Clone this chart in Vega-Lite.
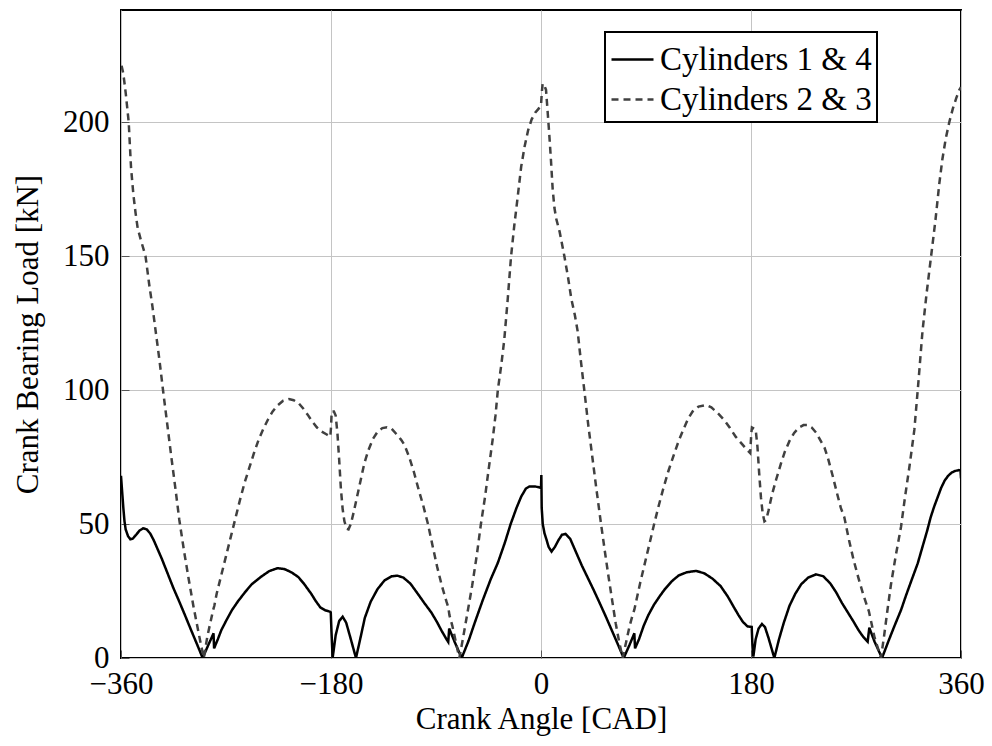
{
  "$schema": "https://vega.github.io/schema/vega-lite/v6.json",
  "autosize": "none",
  "width": 840,
  "height": 648,
  "padding": {"left": 121, "top": 10, "right": 31, "bottom": 88},
  "background": "white",
  "config": {
    "font": "Liberation Serif",
    "view": {"stroke": "black", "strokeWidth": 2},
    "axis": {
      "labelFont": "Liberation Serif",
      "titleFont": "Liberation Serif",
      "labelFontSize": 31,
      "titleFontSize": 31,
      "titleFontWeight": "normal",
      "labelColor": "black",
      "titleColor": "black",
      "gridColor": "#c4c4c4",
      "gridWidth": 1,
      "domain": false,
      "tickColor": "#555555",
      "tickWidth": 1,
      "tickSize": -8
    },
    "legend": {
      "orient": "none",
      "legendX": 484,
      "legendY": 22,
      "strokeColor": "black",
      "strokeWidth": 2,
      "fillColor": "white",
      "padding": 5,
      "labelFont": "Liberation Serif",
      "labelFontSize": 33,
      "labelColor": "black",
      "labelOffset": 5,
      "labelLimit": 400,
      "symbolType": "stroke",
      "symbolSize": 1764,
      "symbolStrokeWidth": 2.5,
      "rowPadding": -6
    }
  },
  "data": {"values": [
{"angle":-360,"load":68,"series":"Cylinders 1 & 4"},{"angle":-359,"load":62,"series":"Cylinders 1 & 4"},{"angle":-358,"load":56,"series":"Cylinders 1 & 4"},{"angle":-357,"load":51,"series":"Cylinders 1 & 4"},{"angle":-356,"load":48,"series":"Cylinders 1 & 4"},{"angle":-354,"load":45.5,"series":"Cylinders 1 & 4"},{"angle":-352,"load":44.3,"series":"Cylinders 1 & 4"},{"angle":-350,"load":44.5,"series":"Cylinders 1 & 4"},{"angle":-347,"load":46,"series":"Cylinders 1 & 4"},{"angle":-344,"load":47.6,"series":"Cylinders 1 & 4"},{"angle":-341,"load":48.4,"series":"Cylinders 1 & 4"},{"angle":-338,"load":48,"series":"Cylinders 1 & 4"},{"angle":-335,"load":46.5,"series":"Cylinders 1 & 4"},{"angle":-332,"load":44,"series":"Cylinders 1 & 4"},{"angle":-329,"load":41,"series":"Cylinders 1 & 4"},{"angle":-325,"load":37,"series":"Cylinders 1 & 4"},{"angle":-320,"load":31.5,"series":"Cylinders 1 & 4"},{"angle":-315,"load":26,"series":"Cylinders 1 & 4"},{"angle":-310,"load":21,"series":"Cylinders 1 & 4"},{"angle":-305,"load":15.8,"series":"Cylinders 1 & 4"},{"angle":-300,"load":10.5,"series":"Cylinders 1 & 4"},{"angle":-295,"load":5.3,"series":"Cylinders 1 & 4"},{"angle":-290,"load":0,"series":"Cylinders 1 & 4"},{"angle":-285,"load":5,"series":"Cylinders 1 & 4"},{"angle":-280.7,"load":9.2,"series":"Cylinders 1 & 4"},{"angle":-280.2,"load":3.6,"series":"Cylinders 1 & 4"},{"angle":-277,"load":7,"series":"Cylinders 1 & 4"},{"angle":-274,"load":10.4,"series":"Cylinders 1 & 4"},{"angle":-270,"load":13.8,"series":"Cylinders 1 & 4"},{"angle":-265,"load":17.8,"series":"Cylinders 1 & 4"},{"angle":-260,"load":21,"series":"Cylinders 1 & 4"},{"angle":-254,"load":24.4,"series":"Cylinders 1 & 4"},{"angle":-248,"load":27.5,"series":"Cylinders 1 & 4"},{"angle":-240,"load":30.3,"series":"Cylinders 1 & 4"},{"angle":-233,"load":32.4,"series":"Cylinders 1 & 4"},{"angle":-226,"load":33.5,"series":"Cylinders 1 & 4"},{"angle":-220,"load":33.2,"series":"Cylinders 1 & 4"},{"angle":-214,"load":32,"series":"Cylinders 1 & 4"},{"angle":-208,"load":30.2,"series":"Cylinders 1 & 4"},{"angle":-203,"load":27.6,"series":"Cylinders 1 & 4"},{"angle":-197,"load":24,"series":"Cylinders 1 & 4"},{"angle":-193,"load":21.2,"series":"Cylinders 1 & 4"},{"angle":-189,"load":18.8,"series":"Cylinders 1 & 4"},{"angle":-185,"load":17.8,"series":"Cylinders 1 & 4"},{"angle":-181,"load":17.3,"series":"Cylinders 1 & 4"},{"angle":-180.2,"load":17,"series":"Cylinders 1 & 4"},{"angle":-179.6,"load":10,"series":"Cylinders 1 & 4"},{"angle":-178.6,"load":0,"series":"Cylinders 1 & 4"},{"angle":-176,"load":8.5,"series":"Cylinders 1 & 4"},{"angle":-173,"load":13.8,"series":"Cylinders 1 & 4"},{"angle":-170,"load":15.4,"series":"Cylinders 1 & 4"},{"angle":-167,"load":13.2,"series":"Cylinders 1 & 4"},{"angle":-163,"load":7,"series":"Cylinders 1 & 4"},{"angle":-158.6,"load":0,"series":"Cylinders 1 & 4"},{"angle":-155,"load":7,"series":"Cylinders 1 & 4"},{"angle":-151,"load":15,"series":"Cylinders 1 & 4"},{"angle":-146,"load":21,"series":"Cylinders 1 & 4"},{"angle":-140,"load":25.8,"series":"Cylinders 1 & 4"},{"angle":-134,"load":29,"series":"Cylinders 1 & 4"},{"angle":-128,"load":30.5,"series":"Cylinders 1 & 4"},{"angle":-123,"load":30.7,"series":"Cylinders 1 & 4"},{"angle":-118,"load":30,"series":"Cylinders 1 & 4"},{"angle":-112,"load":27.8,"series":"Cylinders 1 & 4"},{"angle":-106,"load":24.2,"series":"Cylinders 1 & 4"},{"angle":-100,"load":20.5,"series":"Cylinders 1 & 4"},{"angle":-94,"load":17,"series":"Cylinders 1 & 4"},{"angle":-89,"load":13.3,"series":"Cylinders 1 & 4"},{"angle":-85,"load":10,"series":"Cylinders 1 & 4"},{"angle":-81,"load":7,"series":"Cylinders 1 & 4"},{"angle":-79.5,"load":6,"series":"Cylinders 1 & 4"},{"angle":-78.7,"load":11,"series":"Cylinders 1 & 4"},{"angle":-74,"load":6,"series":"Cylinders 1 & 4"},{"angle":-68,"load":0,"series":"Cylinders 1 & 4"},{"angle":-62,"load":6.5,"series":"Cylinders 1 & 4"},{"angle":-57,"load":12.9,"series":"Cylinders 1 & 4"},{"angle":-50,"load":21.5,"series":"Cylinders 1 & 4"},{"angle":-43,"load":29.5,"series":"Cylinders 1 & 4"},{"angle":-37,"load":35.5,"series":"Cylinders 1 & 4"},{"angle":-31,"load":43,"series":"Cylinders 1 & 4"},{"angle":-26,"load":50,"series":"Cylinders 1 & 4"},{"angle":-21,"load":56,"series":"Cylinders 1 & 4"},{"angle":-17,"load":60.2,"series":"Cylinders 1 & 4"},{"angle":-13,"load":63.2,"series":"Cylinders 1 & 4"},{"angle":-10,"load":64,"series":"Cylinders 1 & 4"},{"angle":-5,"load":64,"series":"Cylinders 1 & 4"},{"angle":-1,"load":63.6,"series":"Cylinders 1 & 4"},{"angle":0,"load":63.4,"series":"Cylinders 1 & 4"},{"angle":0.3,"load":68.3,"series":"Cylinders 1 & 4"},{"angle":0.6,"load":56,"series":"Cylinders 1 & 4"},{"angle":1.5,"load":50,"series":"Cylinders 1 & 4"},{"angle":3,"load":46.5,"series":"Cylinders 1 & 4"},{"angle":4.5,"load":44.5,"series":"Cylinders 1 & 4"},{"angle":6.5,"load":41.5,"series":"Cylinders 1 & 4"},{"angle":9,"load":39.7,"series":"Cylinders 1 & 4"},{"angle":12,"load":41.5,"series":"Cylinders 1 & 4"},{"angle":15,"load":44,"series":"Cylinders 1 & 4"},{"angle":18,"load":46,"series":"Cylinders 1 & 4"},{"angle":21,"load":46.3,"series":"Cylinders 1 & 4"},{"angle":25,"load":44.5,"series":"Cylinders 1 & 4"},{"angle":30,"load":39.5,"series":"Cylinders 1 & 4"},{"angle":35,"load":34.5,"series":"Cylinders 1 & 4"},{"angle":40,"load":30,"series":"Cylinders 1 & 4"},{"angle":45,"load":25.5,"series":"Cylinders 1 & 4"},{"angle":50,"load":20.8,"series":"Cylinders 1 & 4"},{"angle":55,"load":16,"series":"Cylinders 1 & 4"},{"angle":60,"load":11,"series":"Cylinders 1 & 4"},{"angle":65,"load":6,"series":"Cylinders 1 & 4"},{"angle":70.9,"load":0,"series":"Cylinders 1 & 4"},{"angle":76,"load":5,"series":"Cylinders 1 & 4"},{"angle":80,"load":9.2,"series":"Cylinders 1 & 4"},{"angle":80.6,"load":3.6,"series":"Cylinders 1 & 4"},{"angle":84,"load":7,"series":"Cylinders 1 & 4"},{"angle":88,"load":12,"series":"Cylinders 1 & 4"},{"angle":92,"load":16,"series":"Cylinders 1 & 4"},{"angle":97,"load":20,"series":"Cylinders 1 & 4"},{"angle":102,"load":23.2,"series":"Cylinders 1 & 4"},{"angle":106,"load":25.6,"series":"Cylinders 1 & 4"},{"angle":112,"load":28.6,"series":"Cylinders 1 & 4"},{"angle":118,"load":30.8,"series":"Cylinders 1 & 4"},{"angle":125,"load":32,"series":"Cylinders 1 & 4"},{"angle":133,"load":32.5,"series":"Cylinders 1 & 4"},{"angle":140,"load":31.6,"series":"Cylinders 1 & 4"},{"angle":147,"load":29.6,"series":"Cylinders 1 & 4"},{"angle":154,"load":26.8,"series":"Cylinders 1 & 4"},{"angle":160,"load":23,"series":"Cylinders 1 & 4"},{"angle":165,"load":19.2,"series":"Cylinders 1 & 4"},{"angle":169,"load":16.2,"series":"Cylinders 1 & 4"},{"angle":173,"load":13.5,"series":"Cylinders 1 & 4"},{"angle":177,"load":11.8,"series":"Cylinders 1 & 4"},{"angle":180.6,"load":11.6,"series":"Cylinders 1 & 4"},{"angle":181.2,"load":5,"series":"Cylinders 1 & 4"},{"angle":182,"load":0.5,"series":"Cylinders 1 & 4"},{"angle":184,"load":7,"series":"Cylinders 1 & 4"},{"angle":186.5,"load":11,"series":"Cylinders 1 & 4"},{"angle":189.4,"load":12.7,"series":"Cylinders 1 & 4"},{"angle":192,"load":11.5,"series":"Cylinders 1 & 4"},{"angle":195,"load":7.5,"series":"Cylinders 1 & 4"},{"angle":200,"load":0,"series":"Cylinders 1 & 4"},{"angle":204,"load":7,"series":"Cylinders 1 & 4"},{"angle":208,"load":13,"series":"Cylinders 1 & 4"},{"angle":213,"load":19.5,"series":"Cylinders 1 & 4"},{"angle":218,"load":24,"series":"Cylinders 1 & 4"},{"angle":223,"load":27.5,"series":"Cylinders 1 & 4"},{"angle":229,"load":30,"series":"Cylinders 1 & 4"},{"angle":235.7,"load":31.2,"series":"Cylinders 1 & 4"},{"angle":242,"load":30.5,"series":"Cylinders 1 & 4"},{"angle":248,"load":27.8,"series":"Cylinders 1 & 4"},{"angle":253,"load":24.5,"series":"Cylinders 1 & 4"},{"angle":258,"load":20.5,"series":"Cylinders 1 & 4"},{"angle":263,"load":17,"series":"Cylinders 1 & 4"},{"angle":268,"load":13.5,"series":"Cylinders 1 & 4"},{"angle":272,"load":10.5,"series":"Cylinders 1 & 4"},{"angle":276,"load":8,"series":"Cylinders 1 & 4"},{"angle":280,"load":6.1,"series":"Cylinders 1 & 4"},{"angle":281.4,"load":11.3,"series":"Cylinders 1 & 4"},{"angle":286,"load":6,"series":"Cylinders 1 & 4"},{"angle":292.3,"load":0,"series":"Cylinders 1 & 4"},{"angle":298,"load":6.5,"series":"Cylinders 1 & 4"},{"angle":303,"load":12,"series":"Cylinders 1 & 4"},{"angle":308.6,"load":17.9,"series":"Cylinders 1 & 4"},{"angle":313,"load":23.5,"series":"Cylinders 1 & 4"},{"angle":318,"load":29.5,"series":"Cylinders 1 & 4"},{"angle":322.9,"load":35.3,"series":"Cylinders 1 & 4"},{"angle":327,"load":41.5,"series":"Cylinders 1 & 4"},{"angle":331,"load":47.5,"series":"Cylinders 1 & 4"},{"angle":334,"load":52.5,"series":"Cylinders 1 & 4"},{"angle":337,"load":56.5,"series":"Cylinders 1 & 4"},{"angle":340,"load":60,"series":"Cylinders 1 & 4"},{"angle":343,"load":63.5,"series":"Cylinders 1 & 4"},{"angle":346,"load":66.2,"series":"Cylinders 1 & 4"},{"angle":349,"load":68,"series":"Cylinders 1 & 4"},{"angle":352,"load":69.2,"series":"Cylinders 1 & 4"},{"angle":355,"load":69.8,"series":"Cylinders 1 & 4"},{"angle":358,"load":70.1,"series":"Cylinders 1 & 4"},{"angle":359.6,"load":70,"series":"Cylinders 1 & 4"},{"angle":360,"load":67,"series":"Cylinders 1 & 4"},
{"angle":-359.5,"load":221,"series":"Cylinders 2 & 3"},{"angle":-358,"load":218,"series":"Cylinders 2 & 3"},{"angle":-356,"load":211,"series":"Cylinders 2 & 3"},{"angle":-353.4,"load":200,"series":"Cylinders 2 & 3"},{"angle":-351.4,"load":183,"series":"Cylinders 2 & 3"},{"angle":-349.4,"load":173,"series":"Cylinders 2 & 3"},{"angle":-347.5,"load":166,"series":"Cylinders 2 & 3"},{"angle":-345.7,"load":160.4,"series":"Cylinders 2 & 3"},{"angle":-343,"load":156,"series":"Cylinders 2 & 3"},{"angle":-339,"load":150,"series":"Cylinders 2 & 3"},{"angle":-335.7,"load":139,"series":"Cylinders 2 & 3"},{"angle":-333,"load":131,"series":"Cylinders 2 & 3"},{"angle":-330,"load":121,"series":"Cylinders 2 & 3"},{"angle":-327,"load":111,"series":"Cylinders 2 & 3"},{"angle":-324,"load":100,"series":"Cylinders 2 & 3"},{"angle":-320,"load":86,"series":"Cylinders 2 & 3"},{"angle":-317,"load":75.5,"series":"Cylinders 2 & 3"},{"angle":-313,"load":62,"series":"Cylinders 2 & 3"},{"angle":-310,"load":51.5,"series":"Cylinders 2 & 3"},{"angle":-306,"load":40,"series":"Cylinders 2 & 3"},{"angle":-302,"load":29.5,"series":"Cylinders 2 & 3"},{"angle":-298,"load":19.5,"series":"Cylinders 2 & 3"},{"angle":-294,"load":10.5,"series":"Cylinders 2 & 3"},{"angle":-291.5,"load":5,"series":"Cylinders 2 & 3"},{"angle":-289,"load":0,"series":"Cylinders 2 & 3"},{"angle":-286,"load":8,"series":"Cylinders 2 & 3"},{"angle":-283,"load":14,"series":"Cylinders 2 & 3"},{"angle":-281,"load":18,"series":"Cylinders 2 & 3"},{"angle":-280,"load":19.5,"series":"Cylinders 2 & 3"},{"angle":-278,"load":24,"series":"Cylinders 2 & 3"},{"angle":-274,"load":31,"series":"Cylinders 2 & 3"},{"angle":-270,"load":38,"series":"Cylinders 2 & 3"},{"angle":-266,"load":45,"series":"Cylinders 2 & 3"},{"angle":-262,"load":52,"series":"Cylinders 2 & 3"},{"angle":-258,"load":59,"series":"Cylinders 2 & 3"},{"angle":-254,"load":65.5,"series":"Cylinders 2 & 3"},{"angle":-250,"load":71,"series":"Cylinders 2 & 3"},{"angle":-246,"load":76.5,"series":"Cylinders 2 & 3"},{"angle":-242,"load":81.5,"series":"Cylinders 2 & 3"},{"angle":-238,"load":85.5,"series":"Cylinders 2 & 3"},{"angle":-234,"load":89,"series":"Cylinders 2 & 3"},{"angle":-230,"load":92,"series":"Cylinders 2 & 3"},{"angle":-226,"load":94.2,"series":"Cylinders 2 & 3"},{"angle":-221,"load":96,"series":"Cylinders 2 & 3"},{"angle":-216,"load":96.6,"series":"Cylinders 2 & 3"},{"angle":-212,"load":96.2,"series":"Cylinders 2 & 3"},{"angle":-208,"load":95.2,"series":"Cylinders 2 & 3"},{"angle":-204,"load":93.2,"series":"Cylinders 2 & 3"},{"angle":-200,"load":90.8,"series":"Cylinders 2 & 3"},{"angle":-196,"load":88.2,"series":"Cylinders 2 & 3"},{"angle":-192,"load":86,"series":"Cylinders 2 & 3"},{"angle":-188,"load":84.5,"series":"Cylinders 2 & 3"},{"angle":-184,"load":83.5,"series":"Cylinders 2 & 3"},{"angle":-180.6,"load":82.6,"series":"Cylinders 2 & 3"},{"angle":-180,"load":86,"series":"Cylinders 2 & 3"},{"angle":-179.4,"load":92,"series":"Cylinders 2 & 3"},{"angle":-177.5,"load":92,"series":"Cylinders 2 & 3"},{"angle":-176,"load":90.5,"series":"Cylinders 2 & 3"},{"angle":-174.5,"load":84,"series":"Cylinders 2 & 3"},{"angle":-173,"load":74,"series":"Cylinders 2 & 3"},{"angle":-171.5,"load":63,"series":"Cylinders 2 & 3"},{"angle":-170,"load":55.5,"series":"Cylinders 2 & 3"},{"angle":-168.5,"load":51,"series":"Cylinders 2 & 3"},{"angle":-166.5,"load":48.2,"series":"Cylinders 2 & 3"},{"angle":-165,"load":48,"series":"Cylinders 2 & 3"},{"angle":-163,"load":50,"series":"Cylinders 2 & 3"},{"angle":-160.5,"load":54.5,"series":"Cylinders 2 & 3"},{"angle":-158,"load":59.5,"series":"Cylinders 2 & 3"},{"angle":-155,"load":65.5,"series":"Cylinders 2 & 3"},{"angle":-151.5,"load":72.5,"series":"Cylinders 2 & 3"},{"angle":-148,"load":77.5,"series":"Cylinders 2 & 3"},{"angle":-144,"load":81.8,"series":"Cylinders 2 & 3"},{"angle":-140,"load":84.5,"series":"Cylinders 2 & 3"},{"angle":-136,"load":85.8,"series":"Cylinders 2 & 3"},{"angle":-132,"load":86.1,"series":"Cylinders 2 & 3"},{"angle":-128,"load":85.5,"series":"Cylinders 2 & 3"},{"angle":-124,"load":83.6,"series":"Cylinders 2 & 3"},{"angle":-120,"load":81.5,"series":"Cylinders 2 & 3"},{"angle":-117,"load":79.5,"series":"Cylinders 2 & 3"},{"angle":-113,"load":75,"series":"Cylinders 2 & 3"},{"angle":-109,"load":69.5,"series":"Cylinders 2 & 3"},{"angle":-105,"load":63,"series":"Cylinders 2 & 3"},{"angle":-101,"load":57,"series":"Cylinders 2 & 3"},{"angle":-97,"load":50.2,"series":"Cylinders 2 & 3"},{"angle":-93,"load":42,"series":"Cylinders 2 & 3"},{"angle":-89,"load":34,"series":"Cylinders 2 & 3"},{"angle":-85,"load":27,"series":"Cylinders 2 & 3"},{"angle":-81,"load":21,"series":"Cylinders 2 & 3"},{"angle":-79.5,"load":19,"series":"Cylinders 2 & 3"},{"angle":-78.5,"load":16,"series":"Cylinders 2 & 3"},{"angle":-76,"load":12,"series":"Cylinders 2 & 3"},{"angle":-73,"load":6,"series":"Cylinders 2 & 3"},{"angle":-70,"load":0,"series":"Cylinders 2 & 3"},{"angle":-67,"load":7,"series":"Cylinders 2 & 3"},{"angle":-63,"load":17,"series":"Cylinders 2 & 3"},{"angle":-59,"load":27,"series":"Cylinders 2 & 3"},{"angle":-55,"load":38.5,"series":"Cylinders 2 & 3"},{"angle":-51.5,"load":50,"series":"Cylinders 2 & 3"},{"angle":-48,"load":60,"series":"Cylinders 2 & 3"},{"angle":-45,"load":70,"series":"Cylinders 2 & 3"},{"angle":-41.5,"load":81.3,"series":"Cylinders 2 & 3"},{"angle":-39,"load":90.5,"series":"Cylinders 2 & 3"},{"angle":-37,"load":100,"series":"Cylinders 2 & 3"},{"angle":-34,"load":109.5,"series":"Cylinders 2 & 3"},{"angle":-31.5,"load":118.7,"series":"Cylinders 2 & 3"},{"angle":-28.5,"load":134,"series":"Cylinders 2 & 3"},{"angle":-25.7,"load":149.7,"series":"Cylinders 2 & 3"},{"angle":-23,"load":161,"series":"Cylinders 2 & 3"},{"angle":-20,"load":172,"series":"Cylinders 2 & 3"},{"angle":-17,"load":183.3,"series":"Cylinders 2 & 3"},{"angle":-14,"load":191,"series":"Cylinders 2 & 3"},{"angle":-11,"load":197,"series":"Cylinders 2 & 3"},{"angle":-8,"load":201,"series":"Cylinders 2 & 3"},{"angle":-5,"load":203.5,"series":"Cylinders 2 & 3"},{"angle":-2,"load":205,"series":"Cylinders 2 & 3"},{"angle":0,"load":206.3,"series":"Cylinders 2 & 3"},{"angle":0.7,"load":211,"series":"Cylinders 2 & 3"},{"angle":1.4,"load":214.4,"series":"Cylinders 2 & 3"},{"angle":3,"load":213.5,"series":"Cylinders 2 & 3"},{"angle":4.3,"load":212,"series":"Cylinders 2 & 3"},{"angle":5.5,"load":205,"series":"Cylinders 2 & 3"},{"angle":7,"load":196,"series":"Cylinders 2 & 3"},{"angle":8.5,"load":186,"series":"Cylinders 2 & 3"},{"angle":10,"load":175,"series":"Cylinders 2 & 3"},{"angle":11.5,"load":168,"series":"Cylinders 2 & 3"},{"angle":13,"load":164,"series":"Cylinders 2 & 3"},{"angle":16,"load":159,"series":"Cylinders 2 & 3"},{"angle":20,"load":150,"series":"Cylinders 2 & 3"},{"angle":23,"load":142.5,"series":"Cylinders 2 & 3"},{"angle":26,"load":134,"series":"Cylinders 2 & 3"},{"angle":29,"load":128,"series":"Cylinders 2 & 3"},{"angle":31.4,"load":122,"series":"Cylinders 2 & 3"},{"angle":34,"load":111.5,"series":"Cylinders 2 & 3"},{"angle":37.1,"load":100,"series":"Cylinders 2 & 3"},{"angle":40.5,"load":87,"series":"Cylinders 2 & 3"},{"angle":44,"load":75,"series":"Cylinders 2 & 3"},{"angle":47.5,"load":63,"series":"Cylinders 2 & 3"},{"angle":51.4,"load":50.2,"series":"Cylinders 2 & 3"},{"angle":55,"load":39,"series":"Cylinders 2 & 3"},{"angle":58,"load":30,"series":"Cylinders 2 & 3"},{"angle":61.4,"load":20.4,"series":"Cylinders 2 & 3"},{"angle":64,"load":13,"series":"Cylinders 2 & 3"},{"angle":67,"load":6,"series":"Cylinders 2 & 3"},{"angle":70,"load":0,"series":"Cylinders 2 & 3"},{"angle":73,"load":6,"series":"Cylinders 2 & 3"},{"angle":76,"load":12,"series":"Cylinders 2 & 3"},{"angle":78.5,"load":16,"series":"Cylinders 2 & 3"},{"angle":80,"load":18,"series":"Cylinders 2 & 3"},{"angle":82,"load":22,"series":"Cylinders 2 & 3"},{"angle":85,"load":28,"series":"Cylinders 2 & 3"},{"angle":88,"load":33.5,"series":"Cylinders 2 & 3"},{"angle":91,"load":39,"series":"Cylinders 2 & 3"},{"angle":94,"load":44.5,"series":"Cylinders 2 & 3"},{"angle":97.1,"load":50.2,"series":"Cylinders 2 & 3"},{"angle":101,"load":57,"series":"Cylinders 2 & 3"},{"angle":105,"load":63.5,"series":"Cylinders 2 & 3"},{"angle":109,"load":69.5,"series":"Cylinders 2 & 3"},{"angle":114.3,"load":76.4,"series":"Cylinders 2 & 3"},{"angle":118,"load":81,"series":"Cylinders 2 & 3"},{"angle":122,"load":85.2,"series":"Cylinders 2 & 3"},{"angle":126,"load":89.2,"series":"Cylinders 2 & 3"},{"angle":130,"load":92,"series":"Cylinders 2 & 3"},{"angle":135,"load":93.8,"series":"Cylinders 2 & 3"},{"angle":141.4,"load":94.4,"series":"Cylinders 2 & 3"},{"angle":146,"load":93.5,"series":"Cylinders 2 & 3"},{"angle":151,"load":91.6,"series":"Cylinders 2 & 3"},{"angle":157.1,"load":88.8,"series":"Cylinders 2 & 3"},{"angle":162,"load":85.8,"series":"Cylinders 2 & 3"},{"angle":167,"load":82.5,"series":"Cylinders 2 & 3"},{"angle":172,"load":80,"series":"Cylinders 2 & 3"},{"angle":176,"load":78,"series":"Cylinders 2 & 3"},{"angle":179.3,"load":76.5,"series":"Cylinders 2 & 3"},{"angle":180.3,"load":84,"series":"Cylinders 2 & 3"},{"angle":180.8,"load":86,"series":"Cylinders 2 & 3"},{"angle":184,"load":85.3,"series":"Cylinders 2 & 3"},{"angle":185.5,"load":79,"series":"Cylinders 2 & 3"},{"angle":187,"load":69,"series":"Cylinders 2 & 3"},{"angle":188.5,"load":60,"series":"Cylinders 2 & 3"},{"angle":190,"load":54,"series":"Cylinders 2 & 3"},{"angle":191.5,"load":51,"series":"Cylinders 2 & 3"},{"angle":193,"load":51.5,"series":"Cylinders 2 & 3"},{"angle":195,"load":55,"series":"Cylinders 2 & 3"},{"angle":198,"load":61,"series":"Cylinders 2 & 3"},{"angle":201.5,"load":66.5,"series":"Cylinders 2 & 3"},{"angle":205.7,"load":72.6,"series":"Cylinders 2 & 3"},{"angle":209,"load":77,"series":"Cylinders 2 & 3"},{"angle":213,"load":81,"series":"Cylinders 2 & 3"},{"angle":217,"load":84,"series":"Cylinders 2 & 3"},{"angle":221,"load":86,"series":"Cylinders 2 & 3"},{"angle":225,"load":86.9,"series":"Cylinders 2 & 3"},{"angle":228.6,"load":86.9,"series":"Cylinders 2 & 3"},{"angle":232,"load":86,"series":"Cylinders 2 & 3"},{"angle":236,"load":84,"series":"Cylinders 2 & 3"},{"angle":240,"load":80.8,"series":"Cylinders 2 & 3"},{"angle":243,"load":78.5,"series":"Cylinders 2 & 3"},{"angle":246,"load":74.5,"series":"Cylinders 2 & 3"},{"angle":250,"load":68,"series":"Cylinders 2 & 3"},{"angle":254,"load":61,"series":"Cylinders 2 & 3"},{"angle":257,"load":56,"series":"Cylinders 2 & 3"},{"angle":260,"load":52.5,"series":"Cylinders 2 & 3"},{"angle":264,"load":44,"series":"Cylinders 2 & 3"},{"angle":268,"load":36.5,"series":"Cylinders 2 & 3"},{"angle":272,"load":30,"series":"Cylinders 2 & 3"},{"angle":276,"load":24,"series":"Cylinders 2 & 3"},{"angle":279,"load":20,"series":"Cylinders 2 & 3"},{"angle":281,"load":17.5,"series":"Cylinders 2 & 3"},{"angle":283,"load":13.5,"series":"Cylinders 2 & 3"},{"angle":286,"load":7.5,"series":"Cylinders 2 & 3"},{"angle":291.4,"load":0,"series":"Cylinders 2 & 3"},{"angle":294,"load":8,"series":"Cylinders 2 & 3"},{"angle":297,"load":18,"series":"Cylinders 2 & 3"},{"angle":300,"load":27.5,"series":"Cylinders 2 & 3"},{"angle":304,"load":38,"series":"Cylinders 2 & 3"},{"angle":308.6,"load":49,"series":"Cylinders 2 & 3"},{"angle":312,"load":60,"series":"Cylinders 2 & 3"},{"angle":316,"load":72,"series":"Cylinders 2 & 3"},{"angle":320,"load":85.1,"series":"Cylinders 2 & 3"},{"angle":323.5,"load":103,"series":"Cylinders 2 & 3"},{"angle":327,"load":122,"series":"Cylinders 2 & 3"},{"angle":330.5,"load":136,"series":"Cylinders 2 & 3"},{"angle":334.3,"load":149.7,"series":"Cylinders 2 & 3"},{"angle":338,"load":163,"series":"Cylinders 2 & 3"},{"angle":341.4,"load":177,"series":"Cylinders 2 & 3"},{"angle":344,"load":186,"series":"Cylinders 2 & 3"},{"angle":347,"load":194,"series":"Cylinders 2 & 3"},{"angle":350,"load":200,"series":"Cylinders 2 & 3"},{"angle":353,"load":205,"series":"Cylinders 2 & 3"},{"angle":356,"load":209,"series":"Cylinders 2 & 3"},{"angle":358.6,"load":212,"series":"Cylinders 2 & 3"},{"angle":360,"load":213,"series":"Cylinders 2 & 3"}
  ]},
  "mark": {"type": "line", "strokeWidth": 2.5, "clip": true},
  "encoding": {
    "x": {
      "field": "angle",
      "type": "quantitative",
      "scale": {"domain": [-360, 360], "nice": false, "zero": false},
      "axis": {
        "title": "Crank Angle [CAD]",
        "values": [-360, -180, 0, 180, 360],
        "labelExpr": "replace(datum.label, '-', '\u2212')",
        "labelPadding": 19,
        "titlePadding": 5,
        "labelFlush": false
      }
    },
    "y": {
      "field": "load",
      "type": "quantitative",
      "scale": {"domain": [0, 241.8], "nice": false, "zero": false},
      "axis": {
        "title": "Crank Bearing Load [kN]",
        "values": [0, 50, 100, 150, 200],
        "labelPadding": 20,
        "titlePadding": 18
      }
    },
    "color": {
      "field": "series",
      "type": "nominal",
      "scale": {"domain": ["Cylinders 1 & 4", "Cylinders 2 & 3"], "range": ["#000000", "#404040"]},
      "legend": {"title": null, "labelFont": "Liberation Serif", "labelFontSize": 33, "labelLimit": 400}
    },
    "strokeDash": {
      "field": "series",
      "type": "nominal",
      "scale": {"domain": ["Cylinders 1 & 4", "Cylinders 2 & 3"], "range": [[1, 0], [7, 5]]},
      "legend": {"title": null, "labelFont": "Liberation Serif", "labelFontSize": 33, "labelLimit": 400}
    }
  }
}
